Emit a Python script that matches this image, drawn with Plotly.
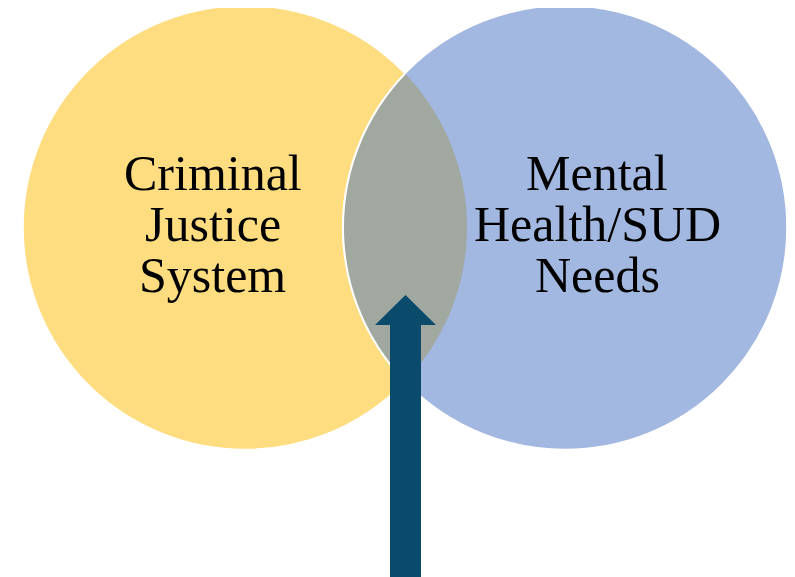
import numpy as np
import plotly.graph_objects as go

W, H = 795, 577

# Venn circles (centre x, centre y, radius) in pixel-like data units
circle_names = ["Criminal Justice System", "Mental Health/SUD Needs"]
circle_cx = [245, 565]
circle_cy = [227.5, 227.5]
circle_r = [222, 222]
circle_colors = ["#FEDD80", "#A2B8E0"]
overlap_color = "#A1A8A0"

# label lines per circle
label_lines = [["Criminal", "Justice", "System"], ["Mental", "Health/SUD", "Needs"]]
label_x = [212.5, 597]
label_y = [173, 224, 275]

# arrow (points up into overlap)
arrow_x = 405.5
arrow_tip_y = 295
arrow_head_base_y = 325
arrow_head_half = 30.5
arrow_shaft_half = 15.5
arrow_bottom_y = 577
arrow_color = "#0A4A6B"

fig = go.Figure()
shapes = []
for cx, cy, r, col in zip(circle_cx, circle_cy, circle_r, circle_colors):
    shapes.append(dict(type="circle", xref="x", yref="y", x0=cx - r, x1=cx + r, y0=cy - r, y1=cy + r,
                       fillcolor=col, line=dict(color="white", width=1.5), layer="above"))

# intersection lens
c1x, c2x = circle_cx
cy = circle_cy[0]
r = circle_r[0]
d = c2x - c1x
h = np.sqrt(r ** 2 - (d / 2) ** 2)
a = np.arcsin(h / r)
# right arc of lens belongs to left circle
t1 = np.linspace(-a, a, 80)
pts_right = [(c1x + r * np.cos(t), cy + r * np.sin(t)) for t in t1]
# left arc of lens belongs to right circle
t2 = np.linspace(np.pi - a, np.pi + a, 80)
pts_left = [(c2x + r * np.cos(t), cy - r * np.sin(t)) for t in t2]
pts = pts_right + pts_left
path = "M " + " L ".join(f"{x:.2f},{y:.2f}" for x, y in pts) + " Z"
shapes.append(dict(type="path", xref="x", yref="y", path=path, fillcolor=overlap_color,
                   line=dict(width=0), layer="above"))
# white outline of right circle's left arc
arc_path = "M " + " L ".join(f"{x:.2f},{y:.2f}" for x, y in pts_left)
shapes.append(dict(type="path", xref="x", yref="y", path=arc_path,
                   line=dict(color="white", width=2), layer="above"))

# arrow
ax = arrow_x
arrow_pts = [
    (ax, arrow_tip_y),
    (ax + arrow_head_half, arrow_head_base_y),
    (ax + arrow_shaft_half, arrow_head_base_y),
    (ax + arrow_shaft_half, arrow_bottom_y + 15),
    (ax - arrow_shaft_half, arrow_bottom_y + 15),
    (ax - arrow_shaft_half, arrow_head_base_y),
    (ax - arrow_head_half, arrow_head_base_y),
]
apath = "M " + " L ".join(f"{x:.2f},{y:.2f}" for x, y in arrow_pts) + " Z"
shapes.append(dict(type="path", xref="x", yref="y", path=apath, fillcolor=arrow_color,
                   line=dict(width=0), layer="above"))

annotations = []
for lx, lines in zip(label_x, label_lines):
    for ly, txt in zip(label_y, lines):
        annotations.append(dict(x=lx, y=ly, xref="x", yref="y", text=txt, showarrow=False,
                                xanchor="center", yanchor="middle",
                                font=dict(family="Liberation Serif, Times New Roman, serif", size=50, color="black")))

# page body has an 8px default margin: offset ranges so data units equal page pixels
OFF = 8
fig.update_layout(
    width=W, height=H,
    margin=dict(l=0, r=0, t=0, b=0),
    paper_bgcolor="white", plot_bgcolor="white",
    xaxis=dict(range=[OFF, W + OFF], visible=False, fixedrange=True),
    yaxis=dict(range=[H + OFF, OFF], visible=False, fixedrange=True),
    shapes=shapes, annotations=annotations, showlegend=False,
)
fig.write_html("out.html")
